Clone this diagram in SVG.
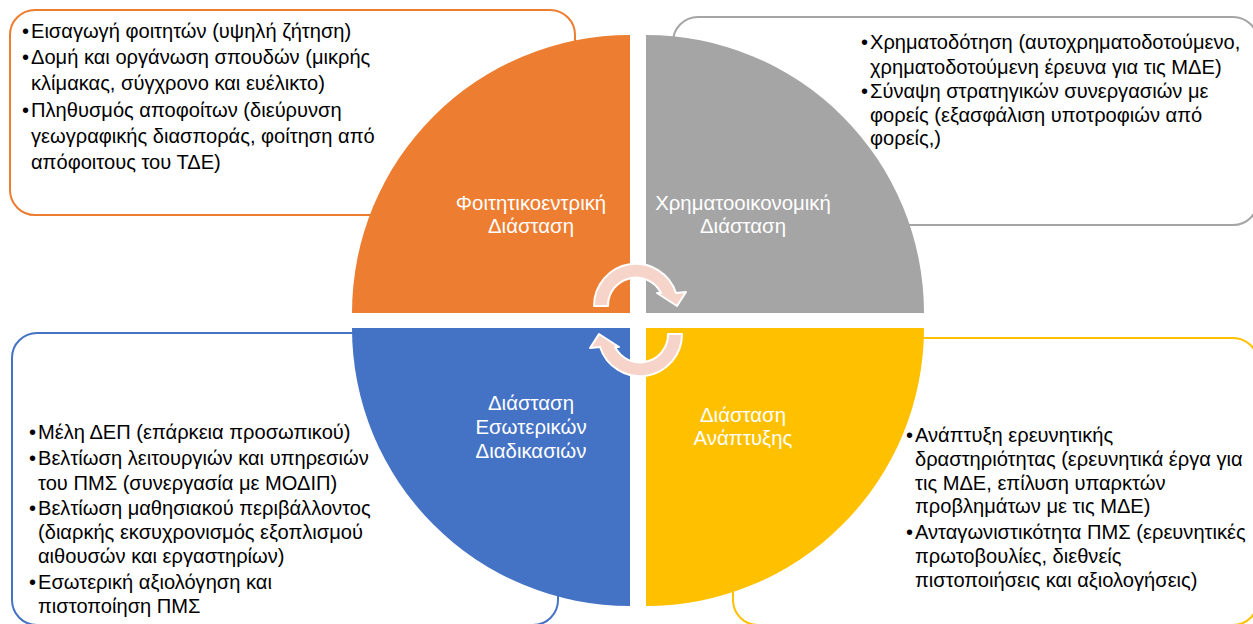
<svg xmlns="http://www.w3.org/2000/svg" width="1253" height="624" viewBox="0 0 1253 624">
<style>
.box{fill:#fff;stroke-width:2}
.t{font-family:"Liberation Sans","Noto Sans",sans-serif;font-size:20.1px;fill:#000}
.lbl{font-family:"Liberation Sans","Noto Sans",sans-serif;font-size:20.4px;fill:#fff;text-anchor:middle}
.arr{fill:#F6D4CA;stroke:#fff;stroke-width:2;stroke-linejoin:round}
</style>
<rect width="1253" height="624" fill="#fff"/>
<g id="box-orange"><rect class="box" x="10" y="10" width="565" height="205" rx="25" stroke="#ED7D31"/>
<text class="t"><tspan x="22" y="38">•</tspan><tspan x="31" y="38">Εισαγωγή φοιτητών (υψηλή ζήτηση)</tspan>
<tspan x="22" y="64">•</tspan><tspan x="31" y="64">Δομή και οργάνωση σπουδών (μικρής</tspan>
<tspan x="31" y="90">κλίμακας, σύγχρονο και ευέλικτο)</tspan>
<tspan x="22" y="117">•</tspan><tspan x="31" y="117">Πληθυσμός αποφοίτων (διεύρυνση</tspan>
<tspan x="31" y="143">γεωγραφικής διασποράς, φοίτηση από</tspan>
<tspan x="31" y="169">απόφοιτους του ΤΔΕ)</tspan></text></g>
<g id="box-gray"><rect class="box" x="673" y="17" width="585" height="208" rx="25" stroke="#A5A5A5"/>
<text class="t"><tspan x="861" y="49">•</tspan><tspan x="870" y="49">Χρηματοδότηση (αυτοχρηματοδοτούμενο,</tspan>
<tspan x="870" y="74">χρηματοδοτούμενη έρευνα για τις ΜΔΕ)</tspan>
<tspan x="861" y="98">•</tspan><tspan x="870" y="98">Σύναψη στρατηγικών συνεργασιών με</tspan>
<tspan x="870" y="122">φορείς (εξασφάλιση υποτροφιών από</tspan>
<tspan x="870" y="145">φορείς,)</tspan></text></g>
<g id="box-blue"><rect class="box" x="12" y="333" width="546" height="292" rx="25" stroke="#4472C4"/>
<text class="t"><tspan x="29" y="439">•</tspan><tspan x="38" y="439">Μέλη ΔΕΠ (επάρκεια προσωπικού)</tspan>
<tspan x="29" y="465">•</tspan><tspan x="38" y="465">Βελτίωση λειτουργιών και υπηρεσιών</tspan>
<tspan x="38" y="490">του ΠΜΣ (συνεργασία με ΜΟΔΙΠ)</tspan>
<tspan x="29" y="515">•</tspan><tspan x="38" y="515">Βελτίωση μαθησιακού περιβάλλοντος</tspan>
<tspan x="38" y="539">(διαρκής εκσυχρονισμός εξοπλισμού</tspan>
<tspan x="38" y="563">αιθουσών και εργαστηρίων)</tspan>
<tspan x="29" y="589">•</tspan><tspan x="38" y="589">Εσωτερική αξιολόγηση και</tspan>
<tspan x="38" y="613">πιστοποίηση ΠΜΣ</tspan></text></g>
<g id="box-yellow"><rect class="box" x="733" y="338" width="525" height="287" rx="25" stroke="#FFC000"/>
<text class="t"><tspan x="906" y="442">•</tspan><tspan x="915" y="442">Ανάπτυξη ερευνητικής</tspan>
<tspan x="915" y="466">δραστηριότητας (ερευνητικά έργα για</tspan>
<tspan x="915" y="490">τις ΜΔΕ, επίλυση υπαρκτών</tspan>
<tspan x="915" y="513">προβλημάτων με τις ΜΔΕ)</tspan>
<tspan x="906" y="539">•</tspan><tspan x="915" y="539">Ανταγωνιστικότητα ΠΜΣ (ερευνητικές</tspan>
<tspan x="915" y="563">πρωτοβουλίες, διεθνείς</tspan>
<tspan x="915" y="587">πιστοποιήσεις και αξιολογήσεις)</tspan></text></g>
<g id="pie-orange"><path d="M630,313 L352,313 A278,278 0 0 1 630,35 Z" fill="#ED7D31"/>
<text class="lbl"><tspan x="531" y="210">Φοιτητικοεντρική</tspan><tspan x="531" y="233">Διάσταση</tspan></text></g>
<g id="pie-gray"><path d="M646,313 L646,35 A278,278 0 0 1 924,313 Z" fill="#A5A5A5"/>
<text class="lbl"><tspan x="743" y="210">Χρηματοοικονομική</tspan><tspan x="743" y="233">Διάσταση</tspan></text></g>
<g id="pie-blue"><path d="M630,328 L630,606 A278,278 0 0 1 352,328 Z" fill="#4472C4"/>
<text class="lbl"><tspan x="531" y="410">Διάσταση</tspan><tspan x="531" y="434">Εσωτερικών</tspan><tspan x="531" y="458">Διαδικασιών</tspan></text></g>
<g id="pie-yellow"><path d="M646,328 L924,328 A278,278 0 0 1 646,606 Z" fill="#FFC000"/>
<text class="lbl"><tspan x="743" y="422">Διάσταση</tspan><tspan x="743" y="445">Ανάπτυξης</tspan></text></g>
<g id="connectors">
<path id="arrow-top" class="arr" d="M594,306 A42,42 0 0 1 676,293 L686,292 L677,306 L657,293 L661,293 A28,28 0 0 0 608,306 Z"/>
<path id="arrow-bottom" class="arr" transform="rotate(180 638 320)" d="M594,306 A42,42 0 0 1 676,293 L686,292 L677,306 L657,293 L661,293 A28,28 0 0 0 608,306 Z"/>
</g>
</svg>
